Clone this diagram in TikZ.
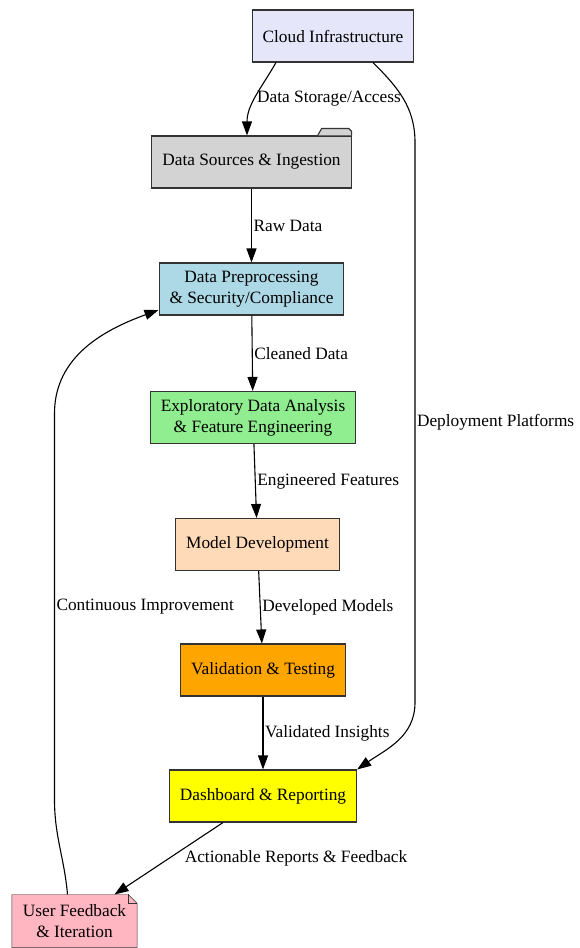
\documentclass[tikz,border=0pt]{standalone}
\usepackage{fontspec}
\setmainfont{Liberation Serif}
\usetikzlibrary{arrows.meta,backgrounds}

\definecolor{lavande}{HTML}{E6E6FA}
\definecolor{grisclair}{HTML}{D3D3D3}
\definecolor{bleuclair}{HTML}{ADD8E6}
\definecolor{vertclair}{HTML}{90EE90}
\definecolor{peche}{HTML}{FFDAB9}
\definecolor{orange}{HTML}{FFA500}
\definecolor{jaune}{HTML}{FFFF00}
\definecolor{rose}{HTML}{FFB6C1}

\newcommand\ongletDossier[1]{
  \filldraw[fill=grisclair, draw=black!80, line join=round]
    ([xshift=-34pt]#1.north east) -- ++(4, 7) -- ++(27, 0) -- ++(3, -3) -- (#1.north east) ;
}

\begin{document}
\begin{tikzpicture}[>={Triangle[length=14pt,width=10pt]}, x=1pt, y=1pt, line width=1.1pt,
    font=\fontsize{17.3}{21}\selectfont,
    boite/.style={draw=black!80, align=center, inner xsep=10.5pt, minimum height=52pt},
    etiq/.style={inner sep=1.5pt}]
  \useasboundingbox (0, 0) rectangle (580, -948) ;

  \node[boite, fill=lavande] (nuage) at (333, -36) {Cloud Infrastructure} ;
  \node[boite, fill=grisclair] (sources) at (251.5, -162) {Data Sources \& Ingestion} ;
  \ongletDossier{sources}
  \node[boite, fill=bleuclair] (pretraitement) at (251.5, -289) {Data Preprocessing\\\& Security/Compliance} ;
  \node[boite, fill=vertclair] (exploration) at (253, -417.5) {Exploratory Data Analysis\\\& Feature Engineering} ;
  \node[boite, fill=peche] (modele) at (257.5, -544.5) {Model Development} ;
  \node[boite, fill=orange] (validation) at (263, -670) {Validation \& Testing} ;
  \node[boite, fill=jaune] (tableau) at (263, -796) {Dashboard \& Reporting} ;
  \node[boite, draw=none] (retour) at (74.5, -921) {User Feedback\\\& Iteration} ;
  \begin{scope}[on background layer]
    \filldraw[fill=rose, draw=black!80]
      (retour.south west) -- (retour.north west) -- ([xshift=-9pt]retour.north east)
      -- ([yshift=-9pt]retour.north east) -- (retour.south east) -- cycle ;
    \draw[black!80] ([xshift=-9pt]retour.north east) -- ++(0, -9) -- ([yshift=-9pt]retour.north east) ;
  \end{scope}

  \draw[->] ([xshift=-57pt]nuage.south) to[out=-120, in=90]
    node[pos=0.52, right, etiq] {Data Storage/Access} ([xshift=-4.5pt]sources.north) ;
  \draw[->] (sources) -- (pretraitement) node[midway, right, etiq] {Raw Data} ;
  \draw[->] (pretraitement) -- (exploration) node[midway, right, etiq] {Cleaned Data} ;
  \draw[->] (exploration) -- (modele) node[midway, right, etiq] {Engineered Features} ;
  \draw[->] (modele) -- (validation) node[midway, right, etiq] {Developed Models} ;
  \draw[->] (validation) -- (tableau) node[midway, right, etiq] {Validated Insights} ;
  \draw[->] (tableau) -- (retour) node[midway, anchor=west, xshift=14pt, etiq] {Actionable Reports \& Feedback} ;
  \draw[->] ([xshift=40pt]nuage.south) to[out=-45, in=90] ++(42, -80) -- ++(0, -560)
    node[midway, right, etiq] {Deployment Platforms} to[out=-90, in=35] (tableau.north east) ;
  \draw[->] ([xshift=-7pt]retour.north) to[out=95, in=-90] ++(-13, 95) -- ++(0, 386)
    node[midway, right, etiq] {Continuous Improvement} to[out=90, in=-160] ([yshift=-21pt]pretraitement.west) ;
\end{tikzpicture}
\end{document}
